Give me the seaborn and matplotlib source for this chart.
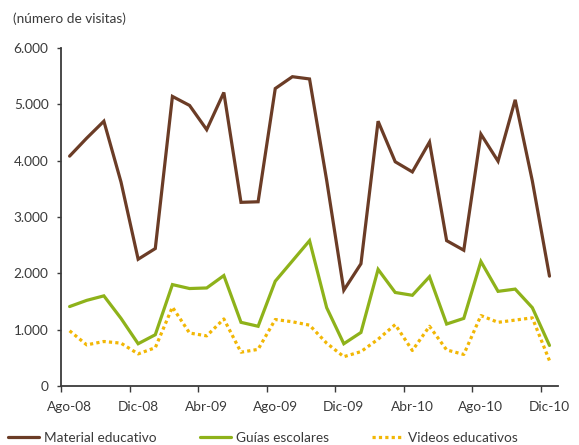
import matplotlib
matplotlib.use("Agg")
import matplotlib.pyplot as plt
import matplotlib.ticker as mticker
import numpy as np
import pandas as pd
import seaborn as sns

# Monthly visits, Aug-2008 .. Dec-2010
months = ["Ago-08", "Sep-08", "Oct-08", "Nov-08", "Dic-08", "Ene-09", "Feb-09", "Mar-09",
          "Abr-09", "May-09", "Jun-09", "Jul-09", "Ago-09", "Sep-09", "Oct-09", "Nov-09",
          "Dic-09", "Ene-10", "Feb-10", "Mar-10", "Abr-10", "May-10", "Jun-10", "Jul-10",
          "Ago-10", "Sep-10", "Oct-10", "Nov-10", "Dic-10"]
material = [4080, 4400, 4700, 3620, 2250, 2440, 5140, 4980, 4550, 5210, 3260, 3270, 5280, 5490,
            5450, 3650, 1700, 2170, 4700, 3980, 3800, 4330, 2580, 2410, 4470, 3990, 5080, 3640, 1950]
guias = [1410, 1520, 1600, 1200, 750, 910, 1800, 1730, 1740, 1960, 1130, 1060, 1860, 2220,
         2580, 1390, 750, 950, 2070, 1660, 1610, 1940, 1100, 1200, 2210, 1680, 1720, 1390, 720]
videos = [980, 730, 790, 760, 570, 680, 1400, 940, 890, 1190, 600, 650, 1180, 1140,
          1080, 760, 520, 610, 830, 1090, 630, 1060, 640, 560, 1250, 1130, 1170, 1210, 450]
series_names = ["Material educativo", "Guías escolares", "Videos educativos"]
y_ticks = [0, 1000, 2000, 3000, 4000, 5000, 6000]

sns.set_theme(style="white")
plt.rcParams["font.family"] = ["Lato", "DejaVu Sans"]

text_color = "#3a3a3a"
colors = ["#6B3C26", "#8EB21A", "#F2B705"]

df = pd.DataFrame({"idx": np.arange(len(months)),
                   series_names[0]: material,
                   series_names[1]: guias,
                   series_names[2]: videos})

fig = plt.figure(figsize=(5.79, 4.45), dpi=100)
ax = fig.add_axes([0.1054, 0.1326, 0.8584, 0.7596])

styles = ["-", "-", (0, (1, 1))]
for name, col, ls in zip(series_names, colors, styles):
    sns.lineplot(data=df, x="idx", y=name, ax=ax, color=col, linewidth=2.3,
                 linestyle=ls, label=name, legend=False)
for line in ax.get_lines():
    line.set_dash_capstyle("butt")
    line.set_solid_joinstyle("miter")

n = len(months)
ax.set_xlim(-0.5, n - 0.5)
ax.set_ylim(0, 6000)

# category labels every four months, tick marks on category boundaries
label_pos = np.arange(0, n, 4)
ax.set_xticks(label_pos)
ax.set_xticklabels([months[i] for i in label_pos])
ax.set_xticks(np.arange(-0.5, n - 0.5, 4), minor=True)
ax.tick_params(axis="x", which="major", length=0, pad=10.5, labelsize=9.8, labelcolor=text_color)
ax.tick_params(axis="x", which="minor", length=4, width=1, direction="out", color=text_color, bottom=True)

ax.set_yticks(y_ticks)
ax.yaxis.set_major_formatter(mticker.FuncFormatter(lambda v, p: f"{int(v):,}".replace(",", ".")))
ax.tick_params(axis="y", length=3, width=1, direction="out", color=text_color, left=True,
               labelsize=9.8, labelcolor=text_color, pad=6)

ax.set_xlabel("")
ax.set_ylabel("")
sns.despine(ax=ax)
for side in ["left", "bottom"]:
    ax.spines[side].set_color(text_color)
    ax.spines[side].set_linewidth(1.3)

fig.text(0.022, 0.958, "(número de visitas)", fontsize=9.8, color=text_color, va="center", ha="left")

handles, labels = ax.get_legend_handles_labels()
leg = fig.legend(handles, labels, loc="center", bbox_to_anchor=(0.454, 0.016), ncol=3,
                 frameon=False, fontsize=9.8, handlelength=2.3, handletextpad=0.35,
                 columnspacing=3.2, labelcolor=text_color)

fig.savefig("out.png", dpi=100)
